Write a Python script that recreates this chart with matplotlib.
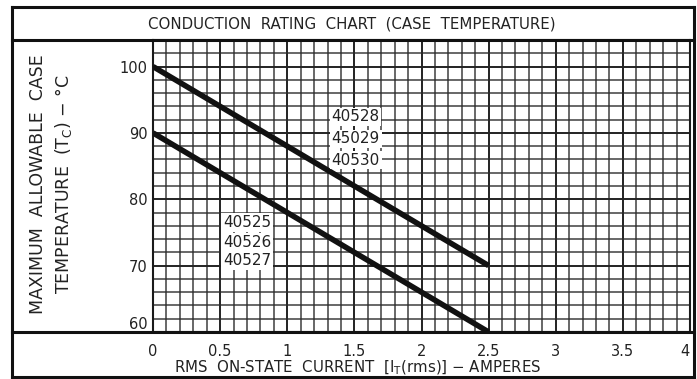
import matplotlib.pyplot as plt
from matplotlib.lines import Line2D
import numpy as np

# rating lines: case temperature vs RMS on-state current
current_a = [0.0, 2.5]
temp_high = [100, 70]      # 40528 / 45029 / 40530
temp_low = [90, 60]        # 40525 / 40526 / 40527

high_types = ["40528", "45029", "40530"]
high_label_x = [1.51, 1.51, 1.51]
high_label_y = [92.4, 89.1, 85.9]

low_types = ["40525", "40526", "40527"]
low_label_x = [0.70, 0.70, 0.70]
low_label_y = [76.5, 73.5, 70.8]

x_ticks = [0, 0.5, 1, 1.5, 2, 2.5, 3, 3.5, 4]
x_tick_labels = ["0", "0.5", "1", "1.5", "2", "2.5", "3", "3.5", "4"]
y_ticks = [60, 70, 80, 90, 100]

W, H = 697, 379
plt.rcParams['font.family'] = ['DejaVu Sans']

fig = plt.figure(figsize=(W / 100, H / 100), dpi=100)
fig.patch.set_facecolor("white")


def fx(px):
    return px / W


def fy(py):
    return 1 - py / H


ax = fig.add_axes([fx(153), fy(332), fx(690) - fx(153), fy(40) - fy(332)])
ax.set_xlim(0, 4)
ax.set_ylim(60, 104)

# graph-paper grid
ax.set_xticks(np.arange(0, 4.01, 0.1), minor=True)
ax.set_yticks(np.arange(60, 104.1, 2), minor=True)
ax.set_xticks(x_ticks)
ax.set_xticklabels(x_tick_labels)
ax.set_yticks(y_ticks)
ax.grid(which="minor", color="#2a2a2a", linewidth=1.1, alpha=0.9)
ax.grid(which="major", color="#222222", linewidth=1.4)
ax.set_axisbelow(True)
ax.tick_params(which="both", length=0)
ax.tick_params(axis="x", pad=9, labelsize=10.5, colors="#222222")
ax.tick_params(axis="y", pad=4, labelsize=10.5, colors="#222222")
for s in ax.spines.values():
    s.set_linewidth(1.5)
    s.set_color("#1a1a1a")

# keep the end labels inside the frame
ax.get_xticklabels()[-1].set_horizontalalignment("right")
ax.get_yticklabels()[0].set_verticalalignment("bottom")

ax.plot(current_a, temp_high, color="#111111", linewidth=4, solid_capstyle="butt", zorder=3)
ax.plot(current_a, temp_low, color="#111111", linewidth=4, solid_capstyle="butt", zorder=3)

box = dict(facecolor="white", edgecolor="none", pad=1.2)
for t, x, y in zip(high_types, high_label_x, high_label_y):
    ax.text(x, y, t, ha="center", va="center", fontsize=11, color="#222222", bbox=box, zorder=4)
for t, x, y in zip(low_types, low_label_x, low_label_y):
    ax.text(x, y, t, ha="center", va="center", fontsize=11, color="#222222", bbox=box, zorder=4)

# outer frame and separators
lw = 2.2
for (x0, y0, x1, y1) in [(12, 7, 694, 7), (12, 377, 694, 377), (12, 7, 12, 377),
                         (694, 7, 694, 377), (12, 40, 694, 40), (12, 332, 694, 332)]:
    fig.add_artist(Line2D([fx(x0), fx(x1)], [fy(y0), fy(y1)], color="#111111",
                          linewidth=lw, transform=fig.transFigure))

fig.text(fx(352), fy(24), "CONDUCTION  RATING  CHART  (CASE  TEMPERATURE)",
         ha="center", va="center", fontsize=10.8, color="#222222")
fig.text(fx(38), fy(184), "MAXIMUM  ALLOWABLE  CASE", rotation=90,
         ha="center", va="center", fontsize=12.5, color="#222222")
fig.text(fx(63), fy(184), r"TEMPERATURE  (T$_\mathregular{C}$) $-$ °C", rotation=90,
         ha="center", va="center", fontsize=12.5, color="#222222")
fig.text(fx(358), fy(368), r"RMS  ON-STATE  CURRENT  [I$_\mathregular{T}$(rms)] $-$ AMPERES",
         ha="center", va="center", fontsize=10.8, color="#222222")

fig.savefig("out.png", dpi=100, facecolor="white")
